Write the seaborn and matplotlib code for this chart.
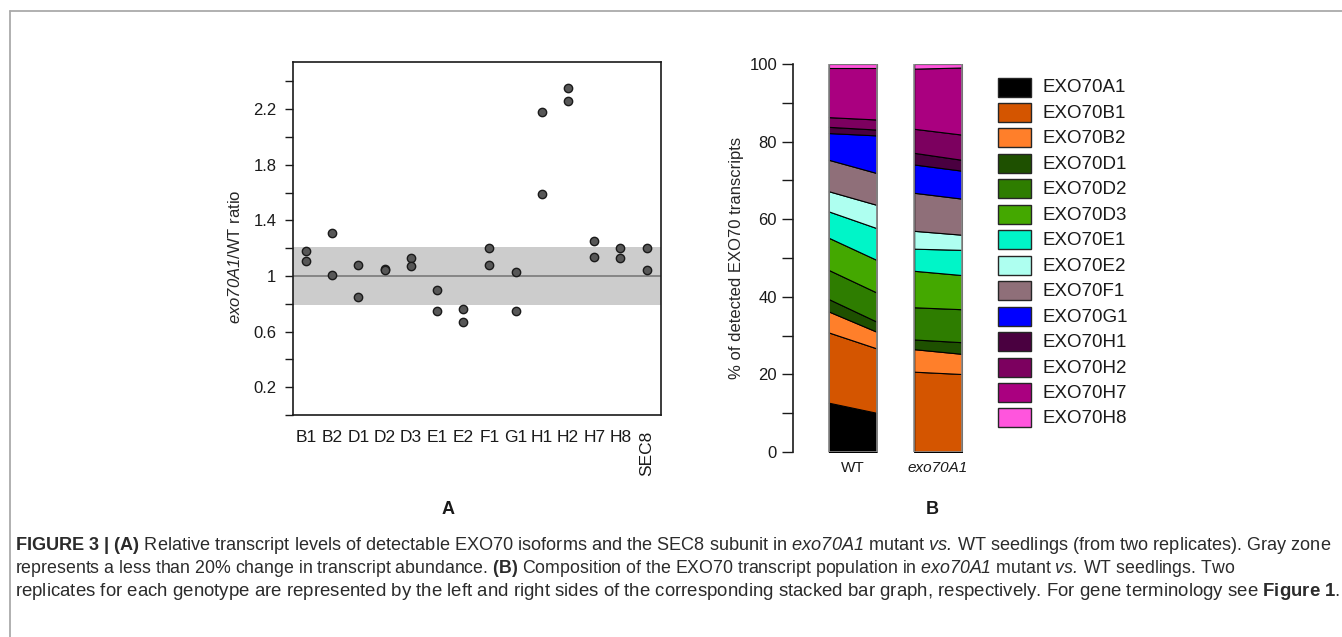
import numpy as np
import pandas as pd
import matplotlib
matplotlib.use('Agg')
import matplotlib.pyplot as plt
import seaborn as sns
from matplotlib.patches import Rectangle
from matplotlib.lines import Line2D

sns.set_style('ticks')
plt.rcParams['font.family'] = ['Liberation Sans', 'DejaVu Sans']
plt.rcParams['mathtext.fontset'] = 'custom'
# digits inside \mathit fall back to the rm font, so make rm italic too
plt.rcParams['mathtext.rm'] = 'Liberation Sans:italic'
plt.rcParams['mathtext.it'] = 'Liberation Sans:italic'
plt.rcParams['mathtext.bf'] = 'Liberation Sans:bold'
plt.rcParams['text.color'] = '#1a1a1a'
plt.rcParams['xtick.color'] = '#1a1a1a'
plt.rcParams['ytick.color'] = '#1a1a1a'

# Panel A: exo70A1 / WT ratio, two replicates per isoform
isoforms = ['B1', 'B2', 'D1', 'D2', 'D3', 'E1', 'E2', 'F1', 'G1', 'H1', 'H2', 'H7', 'H8', 'SEC8']
rep1_ratio = [1.18, 1.31, 1.08, 1.05, 1.13, 0.90, 0.76, 1.20, 1.03, 2.18, 2.35, 1.25, 1.20, 1.20]
rep2_ratio = [1.11, 1.01, 0.85, 1.04, 1.07, 0.75, 0.67, 1.08, 0.75, 1.59, 2.26, 1.14, 1.13, 1.04]
band_low, band_high = 0.79, 1.21

# Panel B: % of detected EXO70 transcripts (layers bottom -> top)
genes = ['EXO70A1', 'EXO70B1', 'EXO70B2', 'EXO70D1', 'EXO70D2', 'EXO70D3', 'EXO70E1',
         'EXO70E2', 'EXO70F1', 'EXO70G1', 'EXO70H1', 'EXO70H2', 'EXO70H7', 'EXO70H8']
gene_colors = ['#000000', '#d45500', '#ff7f2a', '#1e5000', '#2e7d00', '#44a800', '#00f5c8',
               '#aefff0', '#8f6f79', '#0000ff', '#4a0040', '#7c005f', '#aa0080', '#ff55dd']
genotypes = ['WT', 'exo70A1']
wt_rep1 = [12.7, 18.1, 5.4, 3.2, 7.5, 8.3, 6.8, 5.2, 8.1, 6.9, 1.6, 2.5, 12.7, 1.0]
wt_rep2 = [10.1, 16.6, 4.3, 2.6, 7.5, 8.4, 8.2, 6.0, 8.2, 9.7, 1.5, 2.6, 13.3, 1.0]
mut_rep1 = [0.0, 20.7, 5.8, 2.5, 8.3, 9.4, 5.7, 4.6, 9.8, 7.3, 3.0, 6.2, 15.5, 1.2]
mut_rep2 = [0.0, 20.1, 5.2, 3.0, 8.5, 8.8, 6.5, 3.9, 9.3, 7.2, 2.8, 6.5, 17.3, 0.9]

W, H = 1342, 637
fig = plt.figure(figsize=(W / 100, H / 100), dpi=100)

# ---------------- panel A ----------------
axA = fig.add_axes([293 / W, 1 - 415 / H, 368 / W, 353 / H])
df = pd.DataFrame({'isoform': isoforms * 2, 'ratio': rep1_ratio + rep2_ratio})
axA.axhspan(band_low, band_high, color='#cccccc', lw=0, zorder=0)
axA.axhline(1, color='#808080', lw=1.3, zorder=1)
sns.stripplot(data=df, x='isoform', y='ratio', order=isoforms, jitter=False, size=6,
              color='#575757', edgecolor='#1a1a1a', linewidth=1.0, ax=axA, zorder=3)
axA.set_xlim(-0.5, 13.55)
axA.set_ylim(0, 2.54)
yt = np.round(np.arange(0, 2.41, 0.2), 1)
axA.set_yticks(yt)
axA.set_yticklabels([f'{v:g}' if round(v * 10) % 4 == 2 else '' for v in yt])
axA.tick_params(axis='y', length=6, width=1, pad=6, labelsize=12)
axA.tick_params(axis='x', length=0, pad=11, labelsize=12.5)
for lbl in axA.get_xticklabels():
    if lbl.get_text() == 'SEC8':
        lbl.set_rotation(90)
        lbl.set_va('top')
axA.set_xlabel('')
axA.set_ylabel(r'$\mathit{exo70A1}$/WT ratio', fontsize=12)
axA.yaxis.set_label_coords(-0.136, 0.448)
for sp in axA.spines.values():
    sp.set_color('#1a1a1a')
    sp.set_linewidth(1.2)

# ---------------- panel B ----------------
axB = fig.add_axes([793 / W, 1 - 452 / H, 192 / W, 388 / H])
half = 0.28
for gi, (r1, r2) in enumerate([(wt_rep1, wt_rep2), (mut_rep1, mut_rep2)]):
    c1 = np.concatenate([[0], np.cumsum(r1)])
    c2 = np.concatenate([[0], np.cumsum(r2)])
    xs = [gi - half, gi + half]
    for k in range(len(genes)):
        axB.fill_between(xs, [c1[k], c2[k]], [c1[k + 1], c2[k + 1]],
                         facecolor=gene_colors[k], edgecolor='black', lw=0.8)
    axB.add_patch(Rectangle((xs[0], 0), 2 * half, 100, fill=False,
                            edgecolor='#8c8c8c', lw=1.2, zorder=5))
axB.set_xlim(-0.7, 1.55)
axB.set_ylim(0, 100)
yb = np.arange(0, 101, 10)
axB.set_yticks(yb)
axB.set_yticklabels([str(v) if v % 20 == 0 else '' for v in yb])
axB.tick_params(axis='y', length=8, width=1, pad=3.5, labelsize=12)
axB.set_xticks([0, 1])
axB.set_xticklabels(genotypes)
axB.get_xticklabels()[1].set_fontstyle('italic')
axB.tick_params(axis='x', length=0, pad=6.5, labelsize=11)
for s in ['top', 'right', 'bottom']:
    axB.spines[s].set_visible(False)
axB.spines['left'].set_linewidth(1.2)
axB.spines['left'].set_color('#1a1a1a')
axB.set_ylabel('% of detected EXO70 transcripts', fontsize=12)
axB.yaxis.set_label_coords(-0.255, 0.5)

# legend
for i, (g, c) in enumerate(zip(genes, gene_colors)):
    yc = 87 + i * 25.46
    fig.add_artist(Rectangle((998 / W, 1 - (yc + 9.5) / H), 33 / W, 19 / H,
                             transform=fig.transFigure, facecolor=c,
                             edgecolor='#262626', lw=1))
    fig.text(1042 / W, 1 - (yc + 1) / H, g, va='center', ha='left', fontsize=13.5)

# panel letters
fig.text(448 / W, 1 - 510 / H, 'A', ha='center', va='center', fontsize=13, fontweight='bold')
fig.text(932 / W, 1 - 510 / H, 'B', ha='center', va='center', fontsize=13, fontweight='bold')

# frame
fig.add_artist(Line2D([9.5 / W, 1], [1 - 10.5 / H, 1 - 10.5 / H], transform=fig.transFigure,
                      color='#aaaaaa', lw=1.3))
fig.add_artist(Line2D([9.5 / W, 9.5 / W], [0, 1 - 10.5 / H], transform=fig.transFigure,
                      color='#aaaaaa', lw=1.3))

# caption
cap_lines = [
    r'$\mathbf{FIGURE\ 3\ |\ (A)}$ Relative transcript levels of detectable EXO70 isoforms and the SEC8 subunit in '
    r'$\mathit{exo70A1}$ mutant $\mathit{vs.}\,$WT seedlings (from two replicates). Gray zone',
    r'represents a less than 20% change in transcript abundance. $\mathbf{(B)}$ Composition of the EXO70 '
    r'transcript population in $\mathit{exo70A1}$ mutant $\mathit{vs.}\,$WT seedlings. Two',
    r'replicates for each genotype are represented by the left and right sides of the corresponding '
    r'stacked bar graph, respectively. For gene terminology see $\mathbf{Figure\ 1}$.',
]
cap_base = [550, 573, 596]
cap_end = [1330, 1232, 1338]
cap_texts = [fig.text(15 / W, 1 - b / H, s, ha='left', va='baseline', fontsize=12, color='#2b2b2b')
             for s, b in zip(cap_lines, cap_base)]
fig.canvas.draw()
r = fig.canvas.get_renderer()
for t, e in zip(cap_texts, cap_end):
    wdt = t.get_window_extent(r).width
    t.set_fontsize(12 * (e - 15) / wdt)

fig.savefig('out.png', dpi=100)
